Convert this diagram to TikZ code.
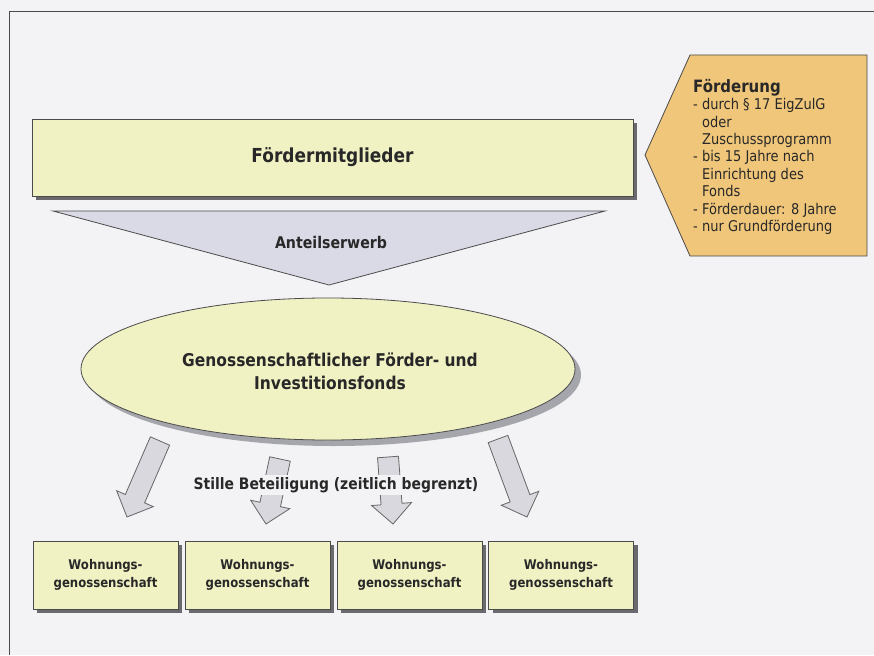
\documentclass[tikz,border=0pt]{standalone}
\usepackage{fontspec}
\setmainfont{DejaVu Sans}[FakeStretch=0.88]
\usetikzlibrary{shapes.geometric,shadows,calc}
\definecolor{pagebg}{RGB}{243,243,246}
\definecolor{paleyellow}{RGB}{241,242,196}
\definecolor{tan}{RGB}{240,198,122}
\definecolor{lineclr}{RGB}{75,75,75}
\definecolor{txt}{RGB}{40,40,40}
\definecolor{arrowfill}{RGB}{216,216,222}
\definecolor{trifill}{RGB}{218,218,230}
\definecolor{darkshadow}{RGB}{105,105,110}
\definecolor{softshadow}{RGB}{165,165,172}
\newcommand{\BArrow}[2]{%
  \coordinate (hh) at ($(#2)!20pt!(#1)$);
  \draw[barrow] ($(#1)!10.5pt!90:(#2)$) -- ($(hh)!10.5pt!90:(#2)$) -- ($(hh)!20pt!90:(#2)$)
    -- (#2) -- ($(hh)!20pt!-90:(#2)$) -- ($(hh)!10.5pt!-90:(#2)$) -- ($(#1)!10.5pt!-90:(#2)$) -- cycle;}
\tikzset{
  frameline/.style={draw=lineclr, line width=0.9pt},
  yellowbox/.style={draw=lineclr, line width=0.8pt, fill=paleyellow, text=txt, font=\bfseries,
    drop shadow={shadow xshift=4pt, shadow yshift=-4pt, fill=darkshadow, opacity=1}},
  genobox/.style={yellowbox, rectangle, minimum width=145pt, minimum height=68pt, align=center,
    font=\fontsize{13.3}{18}\selectfont\bfseries, inner sep=0pt},
  barrow/.style={draw=lineclr!85, line width=0.8pt, fill=arrowfill, line join=miter},
  lbl/.style={text=txt, font=\bfseries, inner sep=0pt},
}
\begin{document}
\begin{tikzpicture}[x=1pt,y=-1pt]
\fill[pagebg] (0,0) rectangle (874,655);
\useasboundingbox (0,0) rectangle (874,655);
% frame
\draw[frameline] (9,655) -- (9,11) -- (874,11);
% Foerdermitglieder
\node[yellowbox, rectangle, minimum width=601pt, minimum height=77pt, inner sep=0pt,
  font=\fontsize{19.3}{22}\selectfont\bfseries] (fm) at (332.5,157.5) {Fördermitglieder};
% Foerderung pentagon
\draw[draw=lineclr, line width=0.8pt, fill=tan] (645,155) -- (690,55) -- (867,55) -- (867,256) -- (690,256) -- cycle;
\node[anchor=north west, align=left, text=txt, inner sep=0pt, font=\fontsize{14.8}{17.4}\selectfont] (fd) at (693,79)
  {{\fontsize{17}{17.4}\selectfont\bfseries Förderung}\\
   - durch § 17 EigZulG\\
   \hspace*{9pt}oder\\
   \hspace*{9pt}Zuschussprogramm\\
   - bis 15 Jahre nach\\
   \hspace*{9pt}Einrichtung des\\
   \hspace*{9pt}Fonds\\
   - Förderdauer: 8 Jahre\\
   - nur Grundförderung};
% Anteilserwerb triangle
\coordinate (tl) at (53,211);
\coordinate (tr) at (605,211);
\coordinate (tt) at (329,285);
\draw[draw=lineclr, line width=0.8pt, fill=trifill] (tl) -- (tr) -- (tt) -- cycle;
\node[lbl, font=\fontsize{16.1}{17}\selectfont\bfseries] (ae) at (331,242) {Anteilserwerb};
% fund ellipse
\node[ellipse, draw=lineclr, line width=0.8pt, fill=paleyellow, minimum width=494pt, minimum height=142pt,
  drop shadow={shadow xshift=6pt, shadow yshift=-6pt, fill=softshadow, opacity=1}] (fonds) at (328,369) {};
\node[lbl, align=center, font=\fontsize{17.6}{23}\selectfont\bfseries] (fondstext) at (330,371)
  {Genossenschaftlicher Förder- und\\Investitionsfonds};
% block arrows
\coordinate (t1) at (160,441); \coordinate (p1) at (127,517);
\coordinate (t2) at (280,459); \coordinate (p2) at (266,524);
\coordinate (t3) at (388,457); \coordinate (p3) at (393,524);
\coordinate (t4) at (498,439); \coordinate (p4) at (527,517);
\BArrow{t1}{p1}
\BArrow{t2}{p2}
\BArrow{t3}{p3}
\BArrow{t4}{p4}
\node[lbl, fill=pagebg, inner sep=2pt, font=\fontsize{15.8}{17}\selectfont\bfseries] (sb) at (336,485)
  {Stille Beteiligung (zeitlich begrenzt)};
% housing cooperatives
\node[genobox] (g1) at (105.5,575) {Wohnungs-\\genossenschaft};
\node[genobox] (g2) at (257.5,575) {Wohnungs-\\genossenschaft};
\node[genobox] (g3) at (409.5,575) {Wohnungs-\\genossenschaft};
\node[genobox] (g4) at (561,575) {Wohnungs-\\genossenschaft};
\end{tikzpicture}
\end{document}
